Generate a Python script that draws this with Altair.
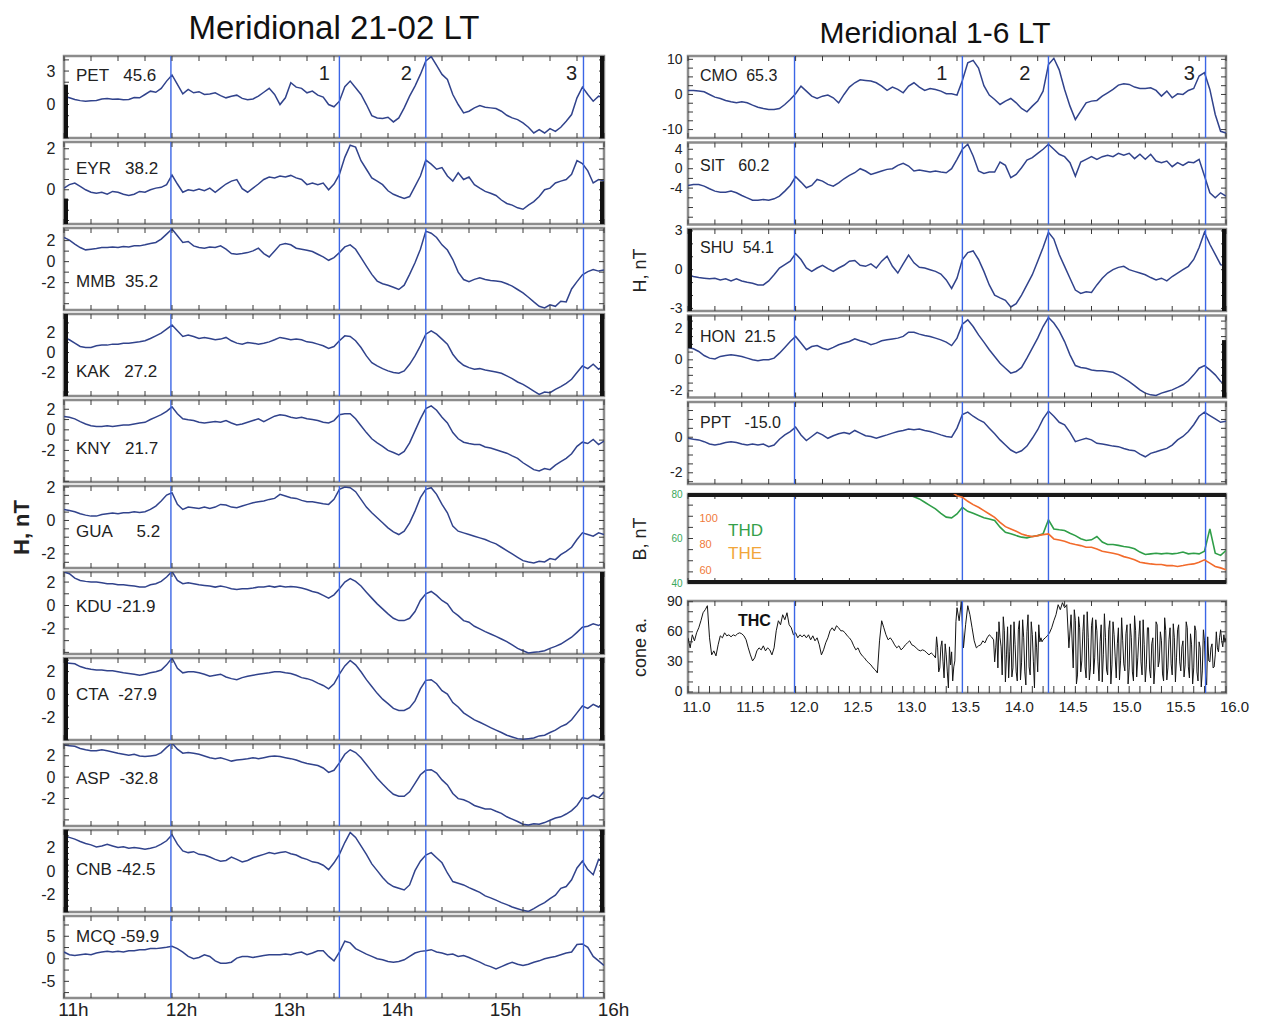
import altair as alt
import pandas as pd

# ---------------- sampling grids / ticks ----------------
T = [round(11 + 0.05 * i, 2) for i in range(101)]
T2 = [round(11 + 0.02 * i, 2) for i in range(251)]
EVENTS = [11.99, 13.55, 14.35, 15.81]
QTICKS = [11 + 0.25 * i for i in range(21)]
DTICKS = [round(11 + 0.1 * i, 1) for i in range(51)]
HOURS = [11, 12, 13, 14, 15, 16]
HALFS = [11.0, 11.5, 12.0, 12.5, 13.0, 13.5, 14.0, 14.5, 15.0, 15.5, 16.0]

# ---------------- left column: Meridional 21-02 LT ----------------
PET = [0.75, 0.6, 0.45, 0.35, 0.3, 0.33, 0.36, 0.5, 0.54, 0.48,
       0.5, 0.42, 0.45, 0.62, 0.6, 0.9, 1.2, 1.1, 1.45, 2.1,
       2.65, 1.8, 0.96, 1.35, 1.05, 1.15, 0.9, 0.95, 1.05, 0.8,
       0.6, 0.75, 0.84, 0.55, 0.42, 0.5, 0.75, 1.1, 1.45, 0.9,
       0.0, 0.6, 1.95, 1.56, 1.45, 1.05, 1.2, 0.84, 0.66, 0.0,
       -0.2, 0.3, 1.6, 2.1, 1.5, 0.9, 0.0, -1.0, -1.2, -1.25,
       -1.14, -1.56, -1.2, -0.3, 0.75, 1.65, 2.7, 3.9, 4.3, 3.5,
       2.7, 2.25, 0.9, 0.0, -0.75, -0.6, -0.3, -0.1, -0.24, -0.3,
       -0.36, -0.6, -0.96, -1.2, -1.35, -1.65, -2.04, -2.55, -2.25, -2.55,
       -2.16, -2.4, -2.04, -1.5, -0.9, 0.6, 1.56, 0.9, 0.3, 0.75,
       0.6]
EYR = [0.08, 0.25, 0.33, 0.17, 0.0, -0.12, -0.17, -0.12, -0.22, -0.08,
       -0.12, -0.22, -0.28, -0.22, -0.08, -0.12, 0.0, 0.08, 0.12, 0.25,
       0.72, 0.28, -0.12, 0.0, -0.05, 0.03, -0.05, 0.08, -0.12, 0.08,
       0.28, 0.42, 0.5, 0.05, -0.12, 0.08, 0.28, 0.5, 0.62, 0.58,
       0.67, 0.62, 0.7, 0.58, 0.5, 0.25, 0.33, 0.25, 0.33, 0.0,
       0.28, 0.75, 1.58, 2.17, 2.08, 1.42, 1.0, 0.58, 0.42, 0.25,
       -0.05, -0.22, -0.33, -0.42, -0.33, 0.17, 0.67, 1.45, 1.25, 1.0,
       1.08, 0.67, 0.42, 0.83, 0.5, 0.62, 0.25, 0.08, -0.08, -0.17,
       -0.28, -0.5, -0.67, -0.75, -0.88, -0.95, -0.75, -0.58, -0.33, 0.0,
       0.08, 0.33, 0.42, 0.5, 0.75, 1.42, 1.28, 0.92, 0.33, 0.5,
       0.42]
MMB = [2.3, 2.05, 1.66, 1.34, 1.12, 1.18, 1.25, 1.34, 1.34, 1.4,
       1.34, 1.44, 1.4, 1.5, 1.5, 1.6, 1.72, 1.82, 2.14, 2.62,
       3.1, 2.46, 1.82, 1.92, 1.5, 1.34, 1.28, 1.4, 1.34, 1.5,
       1.18, 0.77, 0.7, 0.77, 0.86, 1.02, 1.28, 0.77, 0.45, 1.02,
       1.6, 1.72, 1.6, 1.28, 1.18, 1.09, 0.96, 0.7, 0.45, 0.13,
       0.38, 0.86, 1.4, 1.6, 1.18, 0.38, -0.42, -1.21, -1.85, -2.1,
       -2.24, -2.43, -2.65, -2.24, -1.21, -0.1, 1.18, 2.9, 2.7, 2.3,
       1.6, 1.1, 0.2, -1.0, -1.7, -1.9, -1.69, -1.53, -1.69, -1.79,
       -1.85, -1.92, -2.1, -2.33, -2.65, -2.97, -3.39, -3.83, -4.25, -4.4,
       -4.1, -4.25, -3.77, -3.83, -2.6, -1.9, -1.25, -0.95, -0.75, -0.9,
       -0.8]
KAK = [1.53, 1.29, 0.95, 0.61, 0.51, 0.51, 0.68, 0.75, 0.75, 0.85,
       0.85, 0.95, 0.95, 1.02, 1.08, 1.19, 1.42, 1.69, 1.97, 2.37,
       2.78, 2.2, 1.63, 1.76, 1.63, 1.42, 1.53, 1.42, 1.29, 1.36,
       1.53, 1.19, 0.95, 0.85, 1.02, 0.95, 0.85, 0.95, 1.08, 1.29,
       1.53, 1.42, 1.29, 1.36, 1.29, 1.08, 1.02, 0.85, 0.68, 0.41,
       0.61, 1.19, 1.69, 1.63, 1.19, 0.51, -0.34, -1.02, -1.36, -1.63,
       -1.86, -2.03, -2.1, -1.86, -1.19, -0.34, 0.68, 1.86, 2.2, 1.86,
       1.36, 0.85, -0.17, -0.85, -1.29, -1.53, -1.69, -1.63, -1.76, -1.86,
       -1.97, -2.1, -2.37, -2.64, -2.98, -3.22, -3.56, -3.9, -4.24, -4.0,
       -4.07, -3.73, -3.46, -3.12, -2.71, -2.03, -1.36, -1.63, -1.19, -1.69,
       -1.36]
KNY = [1.3, 1.23, 1.07, 0.8, 0.57, 0.4, 0.33, 0.33, 0.4, 0.33,
       0.4, 0.47, 0.47, 0.57, 0.67, 0.73, 1.0, 1.23, 1.47, 1.8,
       2.23, 1.57, 1.07, 0.97, 0.9, 0.73, 0.67, 0.73, 0.8, 0.73,
       0.9, 0.67, 0.47, 0.57, 0.73, 0.9, 1.07, 0.8, 1.07, 1.33,
       1.47, 1.4, 1.23, 1.13, 1.23, 1.07, 1.0, 0.9, 0.73, 0.67,
       0.9, 1.47, 1.57, 1.57, 1.07, 0.4, -0.27, -0.87, -1.27, -1.6,
       -2.0, -2.2, -2.43, -2.1, -1.27, -0.1, 1.07, 2.07, 2.33, 1.9,
       1.23, 0.67, -0.27, -0.87, -1.2, -1.33, -1.43, -1.43, -1.67, -1.77,
       -1.93, -2.1, -2.27, -2.53, -2.77, -3.2, -3.53, -3.87, -4.0, -3.77,
       -3.87, -3.43, -3.1, -2.77, -2.33, -1.6, -1.2, -1.33, -0.93, -1.43,
       -1.1]
GUA = [0.66, 0.6, 0.52, 0.4, 0.32, 0.26, 0.26, 0.36, 0.4, 0.44,
       0.4, 0.46, 0.46, 0.52, 0.48, 0.52, 0.66, 0.86, 1.16, 1.52,
       1.66, 0.96, 0.66, 0.8, 0.76, 0.72, 0.8, 0.72, 0.8, 0.96,
       0.92, 0.8, 0.76, 0.86, 0.96, 1.06, 1.12, 1.16, 1.26, 1.32,
       1.56, 1.46, 1.36, 1.32, 1.2, 1.12, 1.12, 1.06, 1.0, 0.96,
       1.26, 1.86, 2.0, 1.96, 1.72, 1.26, 0.8, 0.46, 0.16, -0.14,
       -0.44, -0.68, -0.84, -0.64, -0.14, 0.56, 1.36, 1.86, 1.96, 1.56,
       0.96, 0.46, -0.34, -0.64, -0.74, -0.84, -0.94, -1.04, -1.14, -1.28,
       -1.4, -1.6, -1.8, -2.0, -2.2, -2.4, -2.48, -2.54, -2.44, -2.48,
       -2.28, -2.34, -2.04, -1.84, -1.6, -1.14, -0.74, -0.84, -0.94, -0.74,
       -0.84]
KDU = [2.86, 2.71, 2.34, 2.14, 2.06, 2.0, 2.0, 1.94, 1.86, 1.86,
       1.77, 1.77, 1.71, 1.66, 1.57, 1.57, 1.77, 1.86, 2.06, 2.43,
       2.91, 2.14, 1.86, 1.94, 1.86, 1.77, 1.71, 1.66, 1.57, 1.66,
       1.57, 1.43, 1.37, 1.43, 1.43, 1.49, 1.57, 1.57, 1.66, 1.57,
       1.66, 1.57, 1.63, 1.57, 1.49, 1.37, 1.2, 1.09, 0.86, 0.63,
       0.91, 1.43, 2.0, 2.29, 2.06, 1.66, 1.14, 0.63, 0.14, -0.29,
       -0.71, -1.09, -1.29, -1.29, -1.09, -0.51, 0.43, 1.0, 1.2, 0.86,
       0.43, 0.14, -0.51, -0.86, -1.29, -1.43, -1.77, -2.0, -2.23, -2.43,
       -2.63, -2.86, -3.09, -3.37, -3.66, -3.86, -4.06, -4.0, -3.94, -3.86,
       -3.66, -3.49, -3.29, -3.0, -2.71, -2.29, -1.86, -1.77, -1.57, -1.71,
       -1.43]
CTA = [2.8, 2.74, 2.68, 2.44, 2.29, 2.2, 2.14, 2.14, 2.08, 2.08,
       1.98, 1.89, 1.83, 1.77, 1.68, 1.77, 1.89, 1.98, 2.14, 2.59,
       3.19, 2.29, 1.89, 1.98, 1.98, 1.89, 1.77, 1.59, 1.68, 1.77,
       1.53, 1.38, 1.29, 1.47, 1.59, 1.68, 1.77, 1.83, 1.89, 1.98,
       1.98, 1.89, 1.83, 1.68, 1.47, 1.38, 1.23, 0.99, 0.78, 0.48,
       0.93, 1.77, 2.5, 2.98, 2.59, 1.98, 1.29, 0.69, 0.09, -0.42,
       -0.81, -1.23, -1.41, -1.41, -1.17, -0.57, 0.48, 1.23, 1.29, 0.93,
       0.33, 0.03, -0.72, -1.11, -1.62, -1.92, -2.23, -2.44, -2.68, -2.92,
       -3.13, -3.34, -3.58, -3.73, -3.88, -3.94, -3.88, -3.82, -3.64, -3.58,
       -3.34, -3.13, -2.83, -2.62, -2.23, -1.62, -1.02, -1.23, -0.87, -1.11,
       -0.87]
ASP = [3.0, 2.94, 2.88, 2.68, 2.56, 2.46, 2.46, 2.56, 2.46, 2.36,
       2.24, 2.14, 2.04, 2.14, 1.98, 1.92, 1.98, 2.04, 2.3, 2.78,
       3.19, 2.62, 2.24, 2.3, 2.24, 2.14, 1.98, 1.82, 1.73, 1.82,
       1.66, 1.5, 1.6, 1.66, 1.73, 1.82, 1.73, 1.82, 1.92, 1.98,
       1.92, 1.82, 1.73, 1.6, 1.41, 1.28, 1.18, 1.09, 0.86, 0.45,
       0.64, 1.34, 2.14, 2.56, 2.3, 1.82, 1.18, 0.54, -0.1, -0.64,
       -1.15, -1.6, -1.79, -1.79, -1.37, -0.58, 0.22, 0.64, 0.7, 0.38,
       -0.26, -0.73, -1.53, -2.01, -2.11, -2.33, -2.65, -2.81, -2.97, -2.97,
       -3.19, -3.39, -3.71, -3.93, -4.15, -4.41, -4.47, -4.35, -4.41, -4.25,
       -4.03, -3.83, -3.71, -3.45, -3.13, -2.65, -1.92, -2.01, -1.69, -1.92,
       -1.37]
CNB = [2.93, 2.87, 2.72, 2.52, 2.35, 2.23, 2.06, 2.14, 2.29, 2.14,
       2.0, 2.06, 1.94, 2.0, 1.94, 1.86, 1.94, 2.06, 2.29, 2.58,
       3.1, 2.29, 1.71, 1.57, 1.65, 1.42, 1.36, 1.19, 0.99, 0.84,
       0.9, 1.19, 0.99, 0.78, 0.9, 1.13, 1.28, 1.42, 1.57, 1.48,
       1.57, 1.65, 1.48, 1.36, 1.13, 0.99, 0.78, 0.7, 0.49, 0.12,
       0.7, 1.42, 2.43, 3.3, 2.87, 2.14, 1.42, 0.61, 0.03, -0.55,
       -1.04, -1.33, -1.48, -1.62, -1.19, 0.03, 0.84, 1.36, 1.57, 1.13,
       0.7, -0.17, -0.9, -1.04, -1.19, -1.42, -1.62, -1.83, -2.12, -2.29,
       -2.49, -2.7, -2.87, -3.07, -3.22, -3.36, -3.45, -3.22, -2.93, -2.7,
       -2.35, -2.06, -1.48, -1.33, -0.75, 0.26, 0.84, 0.12, -0.32, 0.99,
       0.7]
MCQ = [1.5, 0.9, 0.75, 0.9, 1.05, 0.9, 1.28, 1.5, 1.65, 1.5,
       1.65, 1.5, 1.8, 1.8, 2.03, 2.03, 2.26, 2.26, 2.4, 2.56,
       2.78, 2.26, 1.5, 0.53, 0.0, 0.3, 0.9, 0.53, -0.45, -0.98,
       -0.98, -0.75, 0.15, 0.53, 0.53, 0.3, 0.53, 0.75, 0.9, 0.9,
       0.9, 1.05, 0.9, 1.28, 1.5, 0.9, 1.28, 1.8, 1.8, 0.53,
       -0.45, 1.5, 3.9, 3.53, 2.26, 1.65, 1.05, 0.53, 0.0, -0.23,
       -0.6, -0.75, -0.6, -0.23, 0.53, 1.28, 1.65, 1.8, 2.03, 1.5,
       1.28, 0.9, 1.05, 0.53, 0.75, 0.3, -0.23, -0.75, -1.35, -1.73,
       -2.26, -1.73, -1.2, -0.75, -1.2, -1.5, -1.2, -0.75, -0.45, 0.0,
       0.3, 0.53, 0.9, 1.28, 1.5, 3.16, 3.3, 2.56, 0.53, -0.45,
       -1.5]

# ---------------- right column: Meridional 1-6 LT ----------------
CMO = [1.14, 1.14, 0.95, 0.76, 0.0, -0.76, -1.14, -1.71, -2.1, -2.38,
       -2.1, -2.38, -3.05, -3.62, -4.0, -4.29, -4.29, -4.0, -2.86, -1.43,
       0.19, 2.38, 0.95, -0.48, -1.14, -0.48, -0.19, -0.95, -2.38, 0.0,
       2.1, 3.33, 4.19, 4.0, 3.81, 3.33, 2.38, 1.14, 2.1, 1.43,
       0.48, 2.38, 3.33, 2.1, 1.14, 1.71, 1.43, 0.95, 0.19, 0.19,
       -0.19, 4.0, 9.0, 9.7, 7.5, 2.5, -0.19, -1.43, -2.86, -1.9,
       -1.14, -2.38, -4.0, -4.95, -3.33, -1.9, 0.95, 8.5, 10.3, 7.0,
       1.43, -3.33, -7.14, -4.76, -2.38, -1.9, -1.71, -0.48, 0.48, 1.43,
       2.67, 3.05, 2.86, 2.1, 1.71, 1.71, 1.9, 1.14, -0.48, 0.95,
       -0.95, 0.19, 0.0, 1.14, 1.71, 5.24, 6.19, 1.43, -5.71, -10.5,
       -10.95]
SIT = [-3.45, -3.24, -3.24, -3.59, -4.14, -4.62, -4.83, -4.83, -4.62, -4.97,
       -5.52, -6.0, -6.48, -6.48, -6.34, -6.48, -6.21, -5.66, -4.62, -3.45,
       -1.66, -2.76, -3.93, -3.45, -2.21, -2.55, -3.24, -3.59, -2.9, -2.07,
       -1.38, -0.83, 0.0, -0.48, -1.17, -0.83, -0.48, -0.14, 0.0, 0.69,
       1.1, 0.55, -0.48, -0.28, -0.48, -0.69, -0.48, -0.69, -0.83, 0.0,
       1.93, 4.0, 5.03, 2.62, -0.48, -0.97, -0.69, -0.69, 1.38, 0.69,
       -1.86, -1.17, 0.21, 1.79, 2.28, 3.17, 4.0, 5.03, 4.0, 2.97,
       2.48, 1.24, -1.52, 1.38, 1.93, 2.48, 1.93, 2.48, 2.76, 2.48,
       3.17, 2.76, 3.17, 2.07, 2.97, 1.93, 2.97, 1.59, 1.24, 1.59,
       0.41, 1.24, 0.69, 1.38, 1.24, 1.93, -1.52, -4.97, -6.0, -4.97,
       -5.66]
SHU = [-0.39, -0.53, -0.61, -0.66, -0.71, -0.66, -0.79, -0.71, -0.87, -0.71,
       -0.87, -0.97, -1.05, -1.18, -1.18, -0.87, -0.39, 0.13, 0.39, 0.66,
       1.24, 0.79, 0.13, -0.13, 0.13, 0.34, 0.08, -0.13, 0.13, 0.34,
       0.66, 0.71, 0.34, 0.26, 0.45, 0.13, 0.66, 1.05, 0.26, -0.26,
       0.45, 1.13, 0.53, 0.18, 0.13, 0.0, -0.13, -0.34, -0.79, -1.45,
       -0.66, 0.79, 1.32, 1.45, 0.79, -0.13, -1.18, -1.97, -2.18, -2.37,
       -2.89, -2.63, -1.97, -1.18, -0.39, 0.66, 1.71, 2.9, 2.37, 1.18,
       0.26, -0.66, -1.58, -1.84, -1.71, -1.76, -1.18, -0.66, -0.26, 0.0,
       0.18, 0.26, 0.0, -0.13, -0.26, -0.39, -0.61, -0.79, -0.66, -0.87,
       -0.53, -0.26, 0.0, 0.26, 0.79, 1.71, 2.9, 1.97, 1.18, 0.39,
       0.26]
HON = [0.8, 0.71, 0.54, 0.28, 0.11, 0.06, 0.22, 0.28, 0.32, 0.28,
       0.22, 0.11, 0.0, -0.06, 0.0, 0.0, 0.11, 0.43, 0.8, 1.18,
       1.51, 1.08, 0.65, 0.86, 0.92, 0.75, 0.65, 0.8, 0.97, 1.08,
       1.18, 1.35, 1.23, 1.14, 0.97, 1.08, 1.23, 1.29, 1.35, 1.4,
       1.51, 1.78, 1.78, 1.66, 1.57, 1.51, 1.4, 1.29, 1.14, 0.92,
       1.4, 2.3, 2.58, 2.15, 1.61, 1.14, 0.65, 0.22, -0.22, -0.54,
       -0.86, -0.75, -0.49, 0.11, 0.75, 1.4, 2.15, 2.73, 2.37, 1.87,
       1.18, 0.32, -0.37, -0.49, -0.54, -0.65, -0.71, -0.71, -0.75, -0.8,
       -0.97, -1.18, -1.4, -1.66, -1.94, -2.15, -2.26, -2.3, -2.15, -2.04,
       -1.94, -1.78, -1.61, -1.35, -0.97, -0.54, -0.37, -0.65, -0.97, -1.4,
       -1.61]
PPT = [-0.06, -0.11, -0.15, -0.25, -0.38, -0.44, -0.38, -0.3, -0.25, -0.3,
       -0.38, -0.44, -0.38, -0.44, -0.38, -0.53, -0.44, -0.11, 0.13, 0.32,
       0.57, 0.13, -0.19, 0.04, 0.27, 0.13, -0.06, 0.08, 0.19, 0.27,
       0.19, 0.38, 0.23, 0.08, 0.04, -0.06, 0.04, 0.13, 0.23, 0.32,
       0.38, 0.46, 0.42, 0.46, 0.38, 0.32, 0.23, 0.13, 0.04, 0.0,
       0.51, 1.28, 1.41, 1.18, 0.99, 0.84, 0.51, 0.19, -0.15, -0.44,
       -0.72, -0.88, -0.76, -0.5, -0.06, 0.42, 1.03, 1.47, 1.18, 0.84,
       0.7, 0.27, -0.25, -0.15, -0.06, -0.15, -0.34, -0.38, -0.44, -0.5,
       -0.53, -0.63, -0.72, -0.76, -0.95, -1.1, -0.91, -0.82, -0.72, -0.63,
       -0.44, -0.15, 0.04, 0.32, 0.7, 1.18, 1.41, 1.22, 1.03, 0.84,
       0.9]

# THEMIS field (from 13.00 and 13.45 onward, on T)
THD = [81.0, 79.7, 78.8, 77.8, 76.3, 74.8, 73.3, 71.3, 69.6, 69.3,
       71.0, 74.0, 72.2, 71.3, 70.3, 69.3, 68.8, 68.1, 65.1, 62.8,
       62.1, 61.3, 60.6, 60.3, 60.9, 61.3, 62.1, 68.4, 64.3, 63.9,
       63.6, 62.4, 61.3, 59.9, 59.1, 59.4, 60.9, 58.4, 57.3, 57.3,
       56.9, 56.4, 56.1, 55.4, 53.9, 52.8, 53.1, 53.4, 53.1, 53.4,
       53.1, 53.4, 53.9, 53.1, 53.4, 53.1, 54.3, 64.3, 53.4, 52.4,
       54.6]
THE = [121.0,
       118.2, 116.9, 113.8, 111.2, 109.1, 106.5, 103.9, 101.3, 97.4, 94.0,
       92.2, 90.4, 88.3, 87.0, 86.2, 87.0, 87.8, 88.3, 84.4, 83.6,
       82.6, 81.0, 80.0, 79.2, 77.9, 77.9, 76.6, 74.8, 74.0, 73.2,
       72.2, 70.6, 69.6, 68.1, 66.2, 65.5, 64.9, 64.4, 64.4, 63.6,
       63.6, 62.9, 63.6, 64.4, 64.9, 66.2, 68.1, 65.5, 62.9, 61.8,
       60.3]
# THC cone angle (on T2, every 0.02 h)
THC = [54, 44, 57, 51, 59, 64, 71, 79, 82, 86,
       54, 37, 41, 36, 47, 56, 54, 59, 56, 57,
       55, 57, 56, 58, 59, 58, 56, 52, 44, 37,
       31, 34, 41, 44, 42, 46, 41, 44, 42, 37,
       44, 61, 71, 67, 77, 72, 79, 67, 64, 57,
       59, 54, 57, 55, 57, 54, 57, 52, 56, 51,
       54, 47, 37, 42, 49, 54, 61, 64, 61, 66,
       64, 61, 61, 59, 56, 54, 51, 46, 42, 44,
       39, 36, 34, 31, 29, 27, 24, 22, 19, 51,
       71, 64, 57, 52, 54, 51, 47, 44, 46, 42,
       44, 47, 49, 51, 47, 46, 44, 42, 41, 42,
       41, 39, 37, 39, 37, 34, 44, 24, 51, 14,
       37, 4, 27, 11, 31, 84, 71, 90, 44, 67,
       86, 77, 64, 51, 44, 46, 47, 51, 49, 54,
       57, 55, 52, 44, 24, 54, 17, 61, 37, 14,
       67, 24, 47, 11, 71, 29, 54, 7, 77, 17,
       57, 4, 44, 67, 54, 52, 54, 56, 59, 64,
       71, 77, 87, 82, 89, 84, 87, 44, 77, 24,
       71, 17, 64, 31, 77, 14, 54, 24, 74, 34,
       61, 11, 67, 37, 54, 17, 71, 27, 57, 14,
       64, 31, 51, 21, 67, 24, 54, 11, 61, 34,
       71, 17, 47, 27, 64, 14, 54, 24, 67, 31,
       51, 11, 61, 24, 64, 17, 54, 34, 67, 21,
       51, 27, 64, 14, 47, 24, 61, 11, 44, 21,
       51, 7, 31, 44, 24, 37, 44, 54, 51, 57,
       54]
# extra in-between samples of THC inside the turbulent intervals (odd hundredths of an hour)
THC_X_T = ([round(13.31 + 0.02 * i, 2) for i in range(10)]
           + [round(13.85 + 0.02 * i, 2) for i in range(23)]
           + [round(14.59 + 0.02 * i, 2) for i in range(71)])
THC_X = [55, 20, 45, 30, 48, 20, 45, 40, 25, 70,
         30, 60, 70, 45, 75, 10, 65, 40, 15, 70,
         20, 62, 12, 72, 20, 60, 25, 70, 30, 60,
         20, 50, 50,
         82, 8, 75, 20, 60, 25, 80, 12, 66, 18,
         72, 30, 50, 10, 78, 22, 62, 8, 70, 35,
         48, 12, 74, 28, 58, 8, 68, 20, 76, 15,
         55, 30, 72, 10, 64, 22, 48, 8, 70, 25,
         60, 18, 74, 12, 52, 28, 68, 10, 62, 30,
         45, 15, 70, 25, 58, 8, 66, 20, 50, 5,
         62, 15, 55, 30, 48, 25, 60, 40, 62, 45, 50]

for arr in [PET, EYR, MMB, KAK, KNY, GUA, KDU, CTA, ASP, CNB, MCQ,
            CMO, SIT, SHU, HON, PPT]:
    assert len(arr) == 101, len(arr)
assert len(THD) == 61 and len(THE) == 52 and len(THC) == 251
assert len(THC_X) == len(THC_X_T) == 104

NB = "\u00a0"
FONT = "Liberation Sans, Arial, sans-serif"
LINE = "#31438c"
EVC = "#3b66e6"
TICK = "#3a3a3a"
FRAME = "#8c8c8c"
XS = alt.Scale(domain=[11, 16], nice=False, zero=False)
HYPHEN = "replace(datum.label, '\u2212', '-')"


def rng(a, b, s):
    out, v = [], a
    while v <= b + 1e-9:
        out.append(round(v, 3))
        v += s
    return out


def first_tick(lo, step):
    r = lo % step
    return lo if r == 0 else lo - r + step


def yaxis(side, labels, title, visible, label_size=None, label_color="#222"):
    if side == "L":
        ext, tpad, tsize, tw, lsz, lpad = 27, 4, 22, "bold", 16, 9
    else:
        ext, tpad, tsize, tw, lsz, lpad = 26, 13, 18, "normal", 14, 6
    return alt.Axis(values=labels, ticks=False, domain=False, grid=False,
                    labelFont=FONT, labelFontSize=label_size or lsz, labelExpr=HYPHEN,
                    labelColor=label_color, labelPadding=lpad,
                    labelOverlap=False, minExtent=ext, maxExtent=ext,
                    title=title, titleFont=FONT, titleFontSize=tsize,
                    titleFontWeight=tw, titlePadding=tpad,
                    titleColor="#222" if visible else "transparent")


def deco(W, H, ys, yax, xax, yticks, top_ticks, bot_ticks, edges, bot_len=5):
    """Event lines, inward tick marks and dense-tick edge bars.
    Every layer repeats the panel's own axis objects so that merging is clean."""
    one = pd.DataFrame({"d": [0]})
    lay = [
        alt.Chart(pd.DataFrame({"t": EVENTS})).mark_rule(color=EVC, strokeWidth=1.4)
        .encode(x=alt.X("t:Q", scale=XS, axis=xax)),
        alt.Chart(pd.DataFrame({"t": top_ticks})).mark_rule(color=TICK, strokeWidth=1)
        .encode(x=alt.X("t:Q", scale=XS, axis=xax), y=alt.value(0), y2=alt.value(5)),
        alt.Chart(pd.DataFrame({"t": bot_ticks})).mark_rule(color=TICK, strokeWidth=1)
        .encode(x=alt.X("t:Q", scale=XS, axis=xax), y=alt.value(H - bot_len), y2=alt.value(H)),
        alt.Chart(pd.DataFrame({"v": yticks})).mark_rule(color=TICK, strokeWidth=1)
        .encode(y=alt.Y("v:Q", scale=ys, axis=yax), x=alt.value(0), x2=alt.value(5)),
        alt.Chart(pd.DataFrame({"v": yticks})).mark_rule(color=TICK, strokeWidth=1)
        .encode(y=alt.Y("v:Q", scale=ys, axis=yax), x=alt.value(W - 5), x2=alt.value(W)),
    ]
    for side, f0, f1 in edges:
        xv = 2 if side == "L" else W - 2
        lay.append(alt.Chart(one).mark_rule(color="#111", strokeWidth=4)
                   .encode(x=alt.value(xv), y=alt.value(H * f0), y2=alt.value(H * f1)))
    return lay


def station(vals, domain, labels, ystep, name, label_y, W, H, side,
            title_visible=False, xaxis=None, edges=(), numbers=None, head=None):
    ys = alt.Scale(domain=domain, nice=False, zero=False)
    yax = yaxis(side, labels, "H, nT", title_visible)
    df = pd.DataFrame({"t": T, "v": vals})
    line = alt.Chart(df).mark_line(color=LINE, strokeWidth=1.5, clip=True).encode(
        x=alt.X("t:Q", scale=XS, axis=xaxis),
        y=alt.Y("v:Q", scale=ys, axis=yax))
    yt = rng(first_tick(domain[0], ystep), domain[1], ystep)
    layers = [line] + deco(W, H, ys, yax, xaxis, yt, QTICKS, QTICKS, edges)
    layers.append(alt.Chart(pd.DataFrame({"s": [name.replace(" ", NB)]}))
                  .mark_text(align="left", baseline="middle", font=FONT,
                             fontSize=17 if side == "L" else 16, color="#222")
                  .encode(x=alt.value(12), y=alt.value(label_y), text="s:N"))
    if numbers:
        layers.append(alt.Chart(pd.DataFrame({"t": numbers, "s": ["1", "2", "3"]}))
                      .mark_text(align="center", baseline="middle", font=FONT,
                                 fontSize=20, color="#222")
                      .encode(x=alt.X("t:Q", scale=XS, axis=xaxis), y=alt.value(18), text="s:N"))
    if head:
        text, size, hx, hy = head
        layers.append(alt.Chart(pd.DataFrame({"s": [text]}))
                      .mark_text(align="center", baseline="alphabetic", font=FONT,
                                 fontSize=size, color="#111")
                      .encode(x=alt.value(hx), y=alt.value(hy), text="s:N"))
    return alt.layer(*layers).properties(width=W, height=H)


WL, HL = 540, 82
WR, HR = 538, 82

xaxis_left = alt.Axis(values=HOURS, labelExpr="datum.value + 'h'", ticks=False, domain=False,
                      grid=False, labelFont=FONT, labelFontSize=19, labelColor="#222",
                      labelPadding=2, labelOffset=9, labelFlush=False, labelOverlap=False,
                      title=None)

left_specs = [
    (PET, [-3.0, 4.35], [0, 3], 1, "PET   45.6", 20, dict(
        edges=[("L", 0.35, 1), ("R", 0, 1)], numbers=[13.41, 14.17, 15.7],
        head=("Meridional 21-02 LT", 33, 270, -17))),
    (EYR, [-1.67, 2.33], [0, 2], 0.5, "EYR   38.2", 27, dict(edges=[("L", 0.69, 1), ("R", 0.48, 1)])),
    (MMB, [-4.6, 3.2], [-2, 0, 2], 1, "MMB  35.2", 54, {}),
    (KAK, [-4.4, 3.9], [-2, 0, 2], 1, "KAK   27.2", 58, dict(edges=[("L", 0, 1), ("R", 0, 1)])),
    (KNY, [-5.07, 2.9], [-2, 0, 2], 1, "KNY   21.7", 49, {}),
    (GUA, [-2.84, 2.06], [-2, 0, 2], 0.5, "GUA     5.2", 46, dict(title_visible=True)),
    (KDU, [-4.14, 2.86], [-2, 0, 2], 1, "KDU -21.9", 35, dict(edges=[("R", 0, 1)])),
    (CTA, [-4.0, 3.19], [-2, 0, 2], 1, "CTA  -27.9", 37, dict(edges=[("L", 0, 1), ("R", 0, 1)])),
    (ASP, [-4.57, 3.1], [-2, 0, 2], 1, "ASP  -32.8", 35, {}),
    (CNB, [-3.5, 3.5], [-2, 0, 2], 0.5, "CNB -42.5", 40, dict(edges=[("L", 0, 1), ("R", 0, 1)])),
    (MCQ, [-8.7, 9.5], [-5, 0, 5], 2.5, "MCQ -59.9", 21, dict(xaxis=xaxis_left)),
]
left_panels = [station(v, d, l, s, n, ly, WL, HL, "L", **kw) for v, d, l, s, n, ly, kw in left_specs]

right_specs = [
    (CMO, [-12.4, 10.95], [-10, 0, 10], 2.5, "CMO  65.3", 20, dict(
        numbers=[13.36, 14.13, 15.66], head=("Meridional 1-6 LT", 30, 247, -13))),
    (SIT, [-11.5, 5.4], [-4, 0, 4], 2, "SIT   60.2", 23, {}),
    (SHU, [-3.2, 3.15], [-3, 0, 3], 1, "SHU  54.1", 19, dict(title_visible=True, edges=[("L", 0, 1), ("R", 0, 1)])),
    (HON, [-2.43, 2.86], [-2, 0, 2], 0.5, "HON  21.5", 21, dict(edges=[("L", 0, 0.4), ("R", 0.3, 1)])),
    (PPT, [-2.63, 1.98], [-2, 0], 0.5, "PPT   -15.0", 21, {}),
]
right_panels = [station(v, d, l, s, n, ly, WR, HR, "R", **kw) for v, d, l, s, n, ly, kw in right_specs]

# ---- B panel (THD green scale, THE orange scale) ----
HB = 89
ysg = alt.Scale(domain=[40, 80], nice=False, zero=False)
yso = alt.Scale(domain=[50, 119.5], nice=False, zero=False)
gax = yaxis("R", [40, 60, 80], "B, nT", True, label_size=10, label_color="#3aa85a")
green = alt.Chart(pd.DataFrame({"t": T[40:], "v": THD})).mark_line(
    color="#2f9e48", strokeWidth=1.6, clip=True).encode(
    x=alt.X("t:Q", scale=XS, axis=None),
    y=alt.Y("v:Q", scale=ysg, axis=gax))
one = pd.DataFrame({"d": [0]})
b_inner = [green] + deco(WR, HB, ysg, gax, None, rng(40, 80, 5), QTICKS, QTICKS, [])
b_inner += [
    alt.Chart(one).mark_rule(color="#1a1a1a", strokeWidth=4)
    .encode(x=alt.value(0), x2=alt.value(WR), y=alt.value(1)),
    alt.Chart(one).mark_rule(color="#1a1a1a", strokeWidth=4)
    .encode(x=alt.value(0), x2=alt.value(WR), y=alt.value(HB - 1)),
    alt.Chart(pd.DataFrame({"s": ["THD"]})).mark_text(
        align="left", baseline="middle", font=FONT, fontSize=17, color="#35a04a")
    .encode(x=alt.value(40), y=alt.value(37), text="s:N"),
    alt.Chart(pd.DataFrame({"s": ["THE"]})).mark_text(
        align="left", baseline="middle", font=FONT, fontSize=17, color="#f2a63a")
    .encode(x=alt.value(40), y=alt.value(60), text="s:N"),
]
orange = alt.Chart(pd.DataFrame({"t": T[49:], "v": THE})).mark_line(
    color="#f26b2c", strokeWidth=1.6, clip=True).encode(
    x=alt.X("t:Q", scale=XS, axis=None),
    y=alt.Y("v:Q", scale=yso, axis=alt.Axis(
        orient="right", offset=-(WR - 4), values=[60, 80, 100], ticks=False, domain=False,
        grid=False, labelFont=FONT, labelFontSize=11, labelColor="#f07a3a",
        labelPadding=7, labelOverlap=False, title=None)))
b_panel = alt.layer(alt.layer(*b_inner), orange).resolve_scale(y="independent").properties(
    width=WR, height=HB)

# ---- cone angle panel ----
HC = 92
ysc = alt.Scale(domain=[-1, 90.7], nice=False, zero=False)
xaxis_cone = alt.Axis(values=HALFS, format=".1f", ticks=False, domain=False, grid=False,
                      labelFont=FONT, labelFontSize=15, labelColor="#222", labelPadding=6,
                      labelOffset=8, labelFlush=False, labelOverlap=False, title=None)
cax = yaxis("R", [0, 30, 60, 90], "cone a.", True)
cone_df = pd.DataFrame({"t": T2 + THC_X_T, "v": THC + THC_X}).sort_values("t")
cone_line = alt.Chart(cone_df).mark_line(
    color="#151515", strokeWidth=1.0, clip=True).encode(
    x=alt.X("t:Q", scale=XS, axis=xaxis_cone),
    y=alt.Y("v:Q", scale=ysc, axis=cax))
cone_layers = [cone_line] + deco(WR, HC, ysc, cax, xaxis_cone, rng(0, 90, 10), QTICKS, DTICKS, [], bot_len=7)
cone_layers.append(alt.Chart(pd.DataFrame({"s": ["THC"]})).mark_text(
    align="left", baseline="middle", font=FONT, fontSize=16, fontWeight="bold", color="#111")
    .encode(x=alt.value(50), y=alt.value(20), text="s:N"))
cone_panel = alt.layer(*cone_layers).properties(width=WR, height=HC)

left = alt.vconcat(*left_panels, spacing=4, bounds="flush")
right_top = alt.vconcat(*right_panels, spacing=4.5, bounds="flush")
right_bot = alt.vconcat(b_panel, cone_panel, spacing=18, bounds="flush")
right = alt.vconcat(right_top, right_bot, spacing=1)

chart = alt.hconcat(left, right, spacing=-2).properties(
    padding={"left": 0, "top": 3, "right": 0, "bottom": 0},
    background="white",
).configure_view(stroke=FRAME, strokeWidth=2.5)

chart.save("out.html", embed_options={"renderer": "svg", "actions": False})
